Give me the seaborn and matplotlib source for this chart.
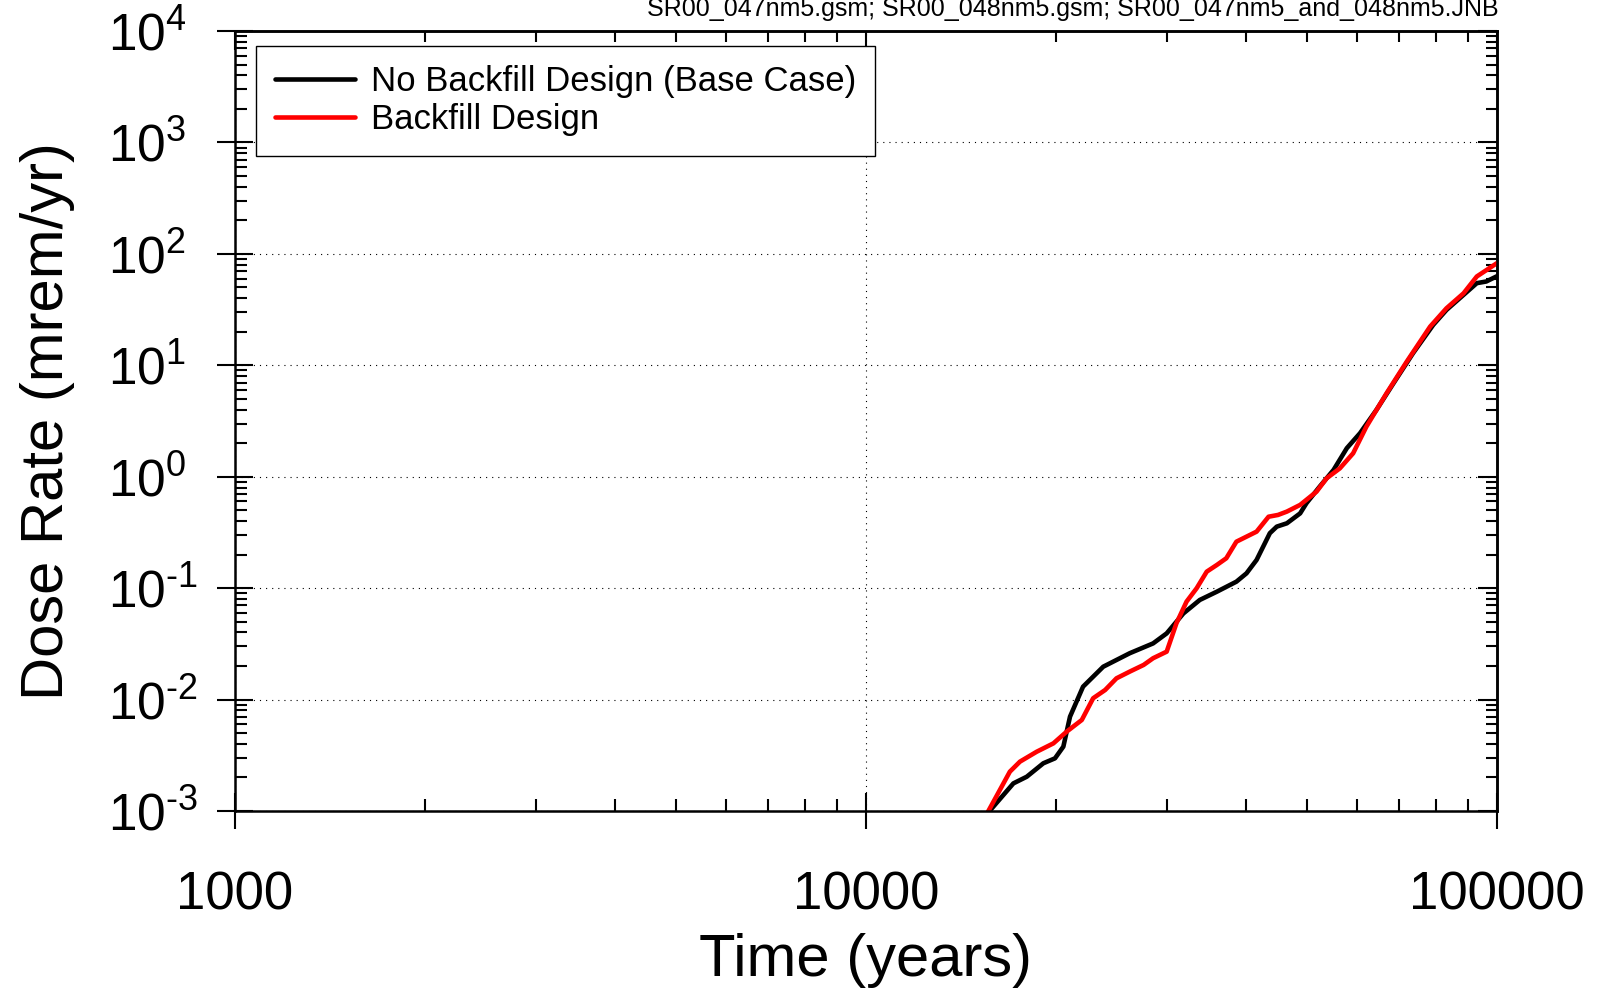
import matplotlib
matplotlib.use("Agg")
import matplotlib.pyplot as plt
import matplotlib.ticker as mticker
import numpy as np
import pandas as pd
import seaborn as sns

# ---- data (time in years, dose rate in mrem/yr) ----
time_base = [15650, 17124, 17978, 19099, 19931, 20547, 21054, 22080, 23768,
             26182, 28510, 29958, 31842, 33806, 35975, 38637, 40087, 41591,
             43652, 44771, 46452, 48753, 49888, 52360, 55081, 57810, 60674,
             64417, 68549, 73621, 79250, 83176, 87297, 92897, 96161, 100000]
dose_base = [0.00098, 0.00177, 0.00203, 0.00268, 0.00297, 0.00378, 0.00703,
             0.01306, 0.01972, 0.02606, 0.03192, 0.03926, 0.05929, 0.07834,
             0.0929, 0.1143, 0.1358, 0.1791, 0.3112, 0.3565, 0.3819, 0.4688,
             0.578, 0.815, 1.151, 1.803, 2.46, 3.981, 6.902, 12.85, 23.07,
             31.41, 39.99, 54.58, 56.49, 63.0]

time_backfill = [15600, 16904, 17539, 18644, 19815, 20797, 21979, 22909, 23933,
                 24946, 26182, 27542, 28510, 29958, 31046, 32211, 33420, 34674,
                 35975, 37239, 38637, 41591, 43451, 44978, 46452, 48753, 51761,
                 53703, 56364, 59156, 62087, 66834, 71945, 78343, 83176, 88512,
                 92897, 100000]
dose_backfill = [0.00098, 0.002254, 0.002773, 0.003404, 0.004046, 0.005152,
                 0.006561, 0.01028, 0.01219, 0.01552, 0.01782, 0.02046, 0.0235,
                 0.02692, 0.04842, 0.07568, 0.09977, 0.1406, 0.1614, 0.1854,
                 0.2612, 0.3214, 0.4375, 0.4539, 0.4864, 0.5585, 0.7345, 0.968,
                 1.189, 1.622, 2.812, 5.61, 10.79, 22.23, 32.51, 44.26, 62.66,
                 82.6]

series_labels = ["No Backfill Design (Base Case)", "Backfill Design"]
series_colors = ["#000000", "#ff0000"]
x_ticks = [1000, 10000, 100000]
x_limits = (1000, 100000)
y_limits = (1e-3, 1e4)
source_note = "SR00_047nm5.gsm; SR00_048nm5.gsm; SR00_047nm5_and_048nm5.JNB"

sns.set_style("white")
plt.rcParams["font.family"] = ["Liberation Sans", "DejaVu Sans"]
plt.rcParams["mathtext.fontset"] = "custom"
plt.rcParams["mathtext.rm"] = "Liberation Sans"
plt.rcParams["mathtext.it"] = "Liberation Sans:italic"
plt.rcParams["mathtext.bf"] = "Liberation Sans:bold"
plt.rcParams["mathtext.default"] = "regular"
plt.rcParams["axes.unicode_minus"] = False
for key in ("text.color", "axes.labelcolor", "xtick.color", "ytick.color",
            "axes.edgecolor"):
    plt.rcParams[key] = "black"

df_base = pd.DataFrame({"Time": time_base, "Dose": dose_base})
df_back = pd.DataFrame({"Time": time_backfill, "Dose": dose_backfill})

fig = plt.figure(figsize=(16.03, 9.90), dpi=100)
ax = fig.add_axes([0.14660, 0.18081, 0.78727, 0.78788])
ax.set_xscale("log")
ax.set_yscale("log")

sns.lineplot(data=df_base, x="Time", y="Dose", ax=ax, color=series_colors[0],
             linewidth=3.3, label=series_labels[0], estimator=None, sort=False)
sns.lineplot(data=df_back, x="Time", y="Dose", ax=ax, color=series_colors[1],
             linewidth=3.3, label=series_labels[1], estimator=None, sort=False)

ax.set_xlim(*x_limits)
ax.set_ylim(*y_limits)

# major / minor locators
ax.xaxis.set_major_locator(mticker.FixedLocator(x_ticks))
ax.xaxis.set_major_formatter(mticker.FuncFormatter(lambda v, p: f"{int(round(v))}"))
ax.xaxis.set_minor_locator(mticker.LogLocator(base=10, subs=np.arange(2, 10), numticks=50))
ax.xaxis.set_minor_formatter(mticker.NullFormatter())

ax.yaxis.set_major_locator(mticker.LogLocator(base=10, numticks=20))
def pow_label(v, pos):
    e = int(round(np.log10(v)))
    s = str(e).replace("-", "\u2010")
    return r"$10^{%s}$" % s
ax.yaxis.set_major_formatter(mticker.FuncFormatter(pow_label))
ax.yaxis.set_minor_locator(mticker.LogLocator(base=10, subs=np.arange(2, 10), numticks=50))
ax.yaxis.set_minor_formatter(mticker.NullFormatter())

for sp in ax.spines.values():
    sp.set_visible(True)
    sp.set_color("black")
    sp.set_linewidth(1.8)

ax.tick_params(which="major", direction="inout", length=25.9, width=1.5,
               color="black", top=False, right=False, left=True, bottom=True)
ax.tick_params(which="minor", direction="in", length=8.4, width=1.5,
               color="black", top=False, right=False, left=True, bottom=True)
ax.tick_params(axis="x", which="major", pad=30, labelsize=38, labelcolor="black")
ax.tick_params(axis="y", which="major", pad=78.4, labelsize=37, labelcolor="black")
for lab in ax.get_yticklabels():
    lab.set_horizontalalignment("left")

ax.grid(True, which="major", color="black", linestyle=(0, (1, 4.5)), linewidth=0.8)
ax.grid(False, which="minor")
ax.set_axisbelow(True)

# ticks on the opposite edges point inward only
ident = (lambda v: v, lambda v: v)
secx = ax.secondary_xaxis("top", functions=ident)
secx.xaxis.set_major_locator(mticker.FixedLocator(x_ticks))
secx.xaxis.set_minor_locator(mticker.LogLocator(base=10, subs=np.arange(2, 10), numticks=50))
secx.xaxis.set_major_formatter(mticker.NullFormatter())
secx.xaxis.set_minor_formatter(mticker.NullFormatter())
secx.tick_params(which="major", direction="in", length=13.7, width=1.5, color="black")
secx.tick_params(which="minor", direction="in", length=8.0, width=1.5, color="black")
secy = ax.secondary_yaxis("right", functions=ident)
secy.yaxis.set_major_locator(mticker.LogLocator(base=10, numticks=20))
secy.yaxis.set_minor_locator(mticker.LogLocator(base=10, subs=np.arange(2, 10), numticks=50))
secy.yaxis.set_major_formatter(mticker.NullFormatter())
secy.yaxis.set_minor_formatter(mticker.NullFormatter())
secy.tick_params(which="major", direction="in", length=13.7, width=1.5, color="black")
secy.tick_params(which="minor", direction="in", length=8.0, width=1.5, color="black")
for s in (secx, secy):
    for sp in s.spines.values():
        sp.set_linewidth(1.8)
        sp.set_color("black")

# axis labels
ax.set_xlabel("Time (years)", fontsize=43, color="black")
ax.xaxis.label.set_verticalalignment("baseline")
ax.xaxis.set_label_coords(0.5, (811 - 976) / 780)
ax.set_ylabel("Dose Rate (mrem/yr)", fontsize=43, color="black")
ax.yaxis.label.set_rotation_mode("anchor")
ax.yaxis.label.set_horizontalalignment("center")
ax.yaxis.label.set_verticalalignment("baseline")
ax.yaxis.set_label_coords((63 - 235) / 1262, 0.5)

leg = ax.legend(loc="upper left", bbox_to_anchor=(21 / 1262, 1 - 15 / 780),
                borderaxespad=0, fontsize=25, frameon=True, fancybox=False,
                shadow=False, framealpha=1, edgecolor="black",
                borderpad=0.56, labelspacing=0.14, handlelength=2.3,
                handletextpad=0.44)
leg.get_frame().set_linewidth(1.0)
for ln in leg.get_lines():
    ln.set_linewidth(3.3)
for t in leg.get_texts():
    t.set_color("black")

fig.text(1499 / 1603, 1 - 16 / 990, source_note, ha="right", va="baseline",
         fontsize=18, color="black")

fig.savefig("out.png", dpi=100)
